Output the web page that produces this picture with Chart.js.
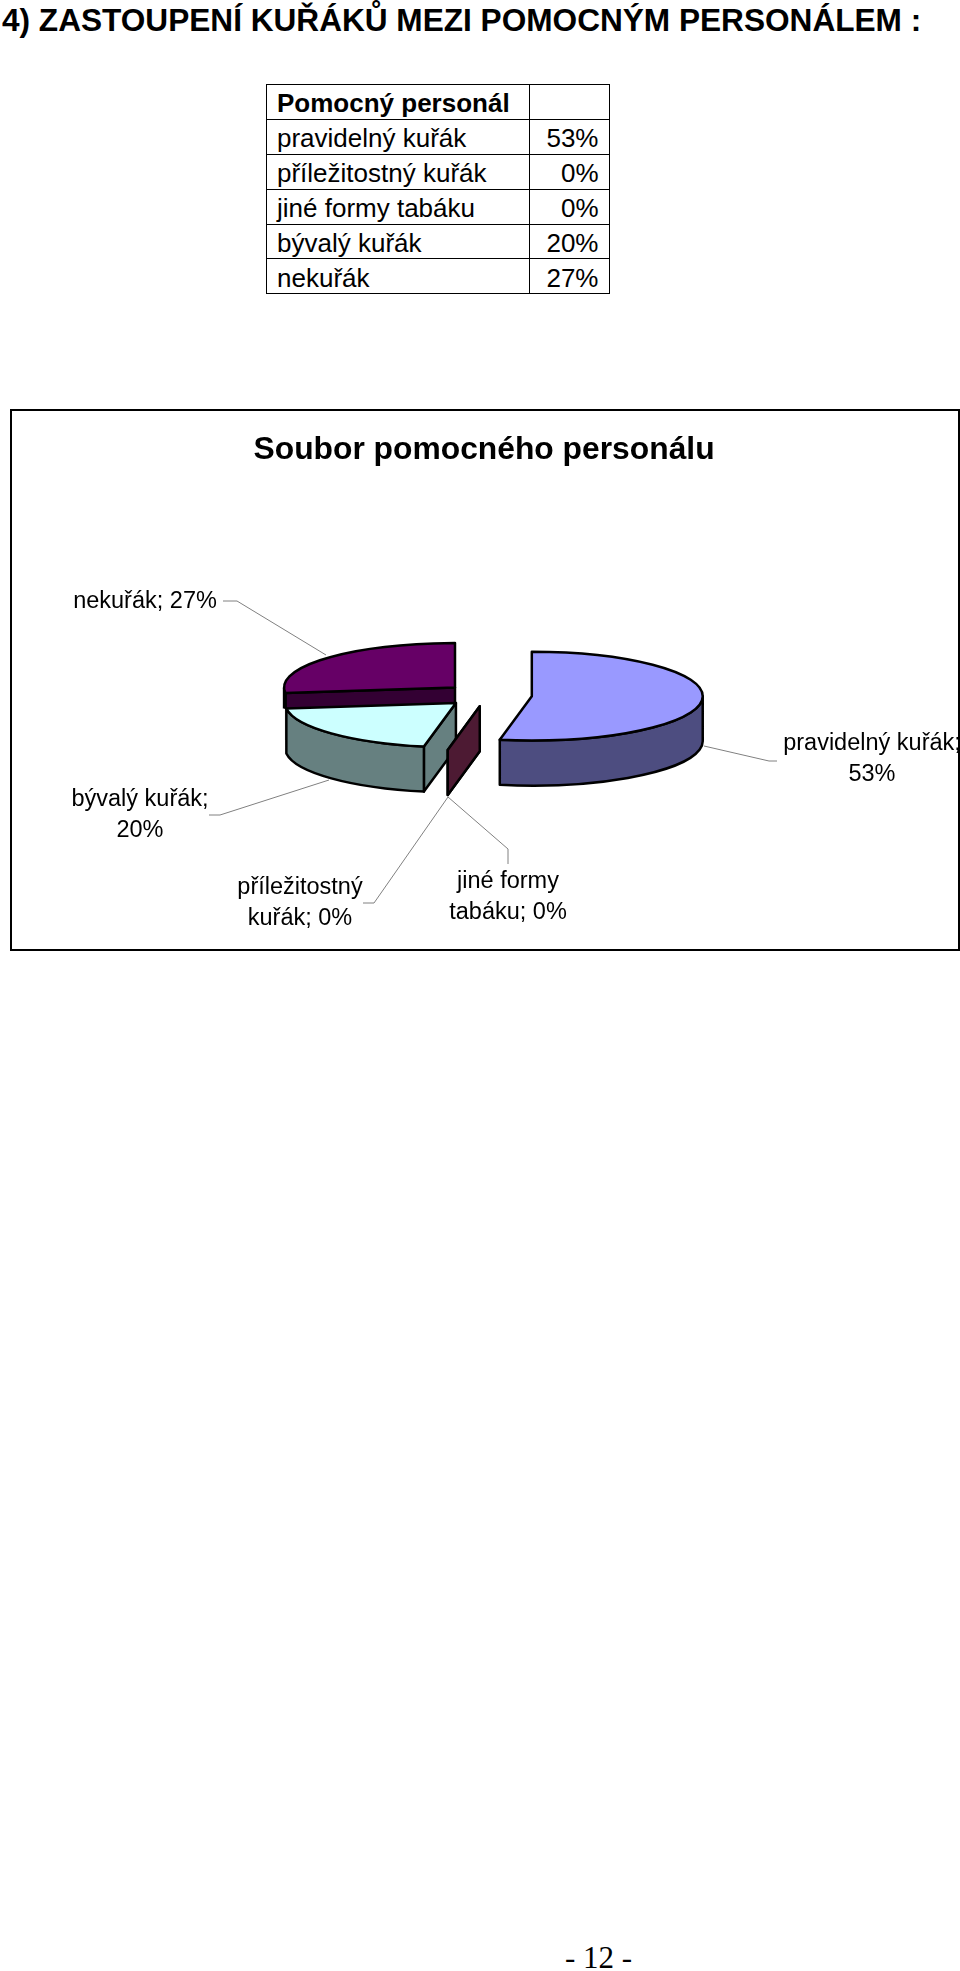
<!DOCTYPE html>
<html>
<head>
<meta charset="utf-8">
<title>Soubor pomocného personálu</title>
<script src="https://cdn.jsdelivr.net/npm/chart.js@4"></script>
<style>
  html, body { margin: 0; padding: 0; background: #fff; }
  body { position: relative; width: 960px; height: 1971px; overflow: hidden; font-family: "Liberation Sans", Arial, sans-serif; color: #000; }
  h1 { position: absolute; left: 2px; top: 1px; margin: 0; font-size: 31.6px; line-height: 38px; font-weight: bold; white-space: nowrap; }
  table { position: absolute; left: 266px; top: 84px; border-collapse: collapse; font-size: 26px; }
  td { border: 1.5px solid #000; height: 30.9px; padding: 3px 10px 0; line-height: 30px; }
  td.name { width: 242px; }
  td.val { width: 58.5px; text-align: right; }
  #frame { position: absolute; left: 10px; top: 409px; width: 946px; height: 538px; border: 2px solid #000; }
  canvas { position: absolute; left: 0; top: 0; }
  #page { position: absolute; left: 0; top: 1939px; width: 1197px; text-align: center; font-family: "Liberation Serif", "Times New Roman", serif; font-size: 31px; line-height: 38px; }
</style>
</head>
<body>
<h1>4) ZASTOUPENÍ KUŘÁKŮ MEZI POMOCNÝM PERSONÁLEM :</h1>
<table id="tbl"></table>
<div id="frame"><canvas id="pie" width="946" height="538"></canvas></div>
<div id="page">- 12 -</div>

<script>
const tableTitle = 'Pomocný personál';
const categories = ['pravidelný kuřák', 'příležitostný kuřák', 'jiné formy tabáku', 'bývalý kuřák', 'nekuřák'];
const shares = [53, 0, 0, 20, 27];
const topColors = ['#9999FF', '#993366', '#FFFFCC', '#CCFFFF', '#660066'];
const sideColors = ['#4D4D80', '#4D1A33', '#808066', '#668080', '#330033'];

// look of the tilted pie
const tilt = 0.26;
const depth = 45;
const explode = 44;
const drawOrder = [4, 0, 3, 2, 1];
const backSlice = 4, frontOfBack = 3; // the back slice's sides disappear behind this one

// where each data label goes, relative to the canvas (index follows categories)
const labelBoxes = [
  { x: 860, y: 333, splitAt: 2, leader: [[765, 350], [757, 350], [692, 335]] },
  { x: 288, y: 476.5, splitAt: 1, leader: [[351, 492], [362, 492], [436, 386]] },
  { x: 496, y: 470.5, splitAt: 2, leader: [[496, 453], [496, 438], [436, 386]] },
  { x: 128, y: 388.5, splitAt: 2, leader: [[197, 404], [208, 404], [317, 369]] },
  { x: 133, y: 190.5, splitAt: 2, leader: [[211, 190], [225, 190], [314, 244]] }
];

const tbl = document.getElementById('tbl');
let rows = '<tr><td class="name"><b>' + tableTitle + '</b></td><td class="val"></td></tr>';
categories.forEach((c, i) => {
  rows += '<tr><td class="name">' + c + '</td><td class="val">' + shares[i] + '%</td></tr>';
});
tbl.innerHTML = rows;

function sliceCentre(arc) {
  const mid = (arc.startAngle + arc.endAngle) / 2;
  return { x: arc.x + Math.cos(mid) * explode, y: arc.y + Math.sin(mid) * explode * tilt };
}

function radialWall(ctx, c, r, angle, colour) {
  const rx = c.x + Math.cos(angle) * r;
  const ry = c.y + Math.sin(angle) * r * tilt;
  ctx.beginPath();
  ctx.moveTo(c.x, c.y);
  ctx.lineTo(rx, ry);
  ctx.lineTo(rx, ry + depth);
  ctx.lineTo(c.x, c.y + depth);
  ctx.closePath();
  ctx.fillStyle = colour;
  ctx.fill();
  ctx.stroke();
}

function drawSides(ctx, arc, i) {
  const a1 = arc.startAngle, a2 = arc.endAngle, r = arc.outerRadius;
  const c = sliceCentre(arc);
  // radial walls that face the viewer
  if (Math.sin(a1 - Math.PI / 2) > 0) radialWall(ctx, c, r, a1, sideColors[i]);
  if (Math.sin(a2 + Math.PI / 2) > 0 && a2 !== a1) radialWall(ctx, c, r, a2, sideColors[i]);
  // outer rim, only the front half shows
  const from = Math.max(a1, 0), to = Math.min(a2, Math.PI);
  if (from < to) {
    ctx.beginPath();
    ctx.ellipse(c.x, c.y, r, r * tilt, 0, from, to);
    ctx.ellipse(c.x, c.y + depth, r, r * tilt, 0, to, from, true);
    ctx.closePath();
    ctx.fillStyle = sideColors[i];
    ctx.fill();
    ctx.stroke();
  }
}

const tiltedPie = {
  id: 'tiltedPie',
  beforeDatasetsDraw(chart) {
    const ctx = chart.ctx;
    const arcs = chart.getDatasetMeta(0).data;
    ctx.save();
    ctx.lineWidth = 2.5;
    ctx.lineJoin = 'round';
    ctx.strokeStyle = '#000';
    drawOrder.forEach((i) => {
      const arc = arcs[i];
      const a1 = arc.startAngle, a2 = arc.endAngle, r = arc.outerRadius;
      const c = sliceCentre(arc);
      if (i === backSlice) {
        // keep its sides from poking out past the slice in front, leave a faint edge
        const front = arcs[frontOfBack];
        const fc = sliceCentre(front);
        const cutY = fc.y + Math.sin(front.endAngle) * front.outerRadius * tilt;
        const edgeX = c.x + Math.cos(a1) * r;
        ctx.save();
        ctx.beginPath();
        ctx.rect(0, 0, chart.width, cutY);
        ctx.clip();
        drawSides(ctx, arc, i);
        ctx.restore();
        ctx.save();
        ctx.strokeStyle = '#999';
        ctx.lineWidth = 1;
        ctx.beginPath();
        ctx.moveTo(edgeX, cutY);
        ctx.lineTo(edgeX, cutY + depth * 0.7);
        ctx.stroke();
        ctx.restore();
      } else {
        drawSides(ctx, arc, i);
      }
      // top face
      if (a2 > a1) {
        ctx.beginPath();
        ctx.moveTo(c.x, c.y);
        ctx.ellipse(c.x, c.y, r, r * tilt, 0, a1, a2);
        ctx.closePath();
        ctx.fillStyle = topColors[i];
        ctx.fill();
        ctx.stroke();
      }
    });
    ctx.restore();
    return false;
  },
  afterDraw(chart) {
    const ctx = chart.ctx;
    ctx.save();
    ctx.font = '23.5px "Liberation Sans", Arial, sans-serif';
    ctx.textAlign = 'center';
    ctx.textBaseline = 'middle';
    labelBoxes.forEach((box, i) => {
      // leader
      ctx.beginPath();
      box.leader.forEach((p, k) => (k ? ctx.lineTo(p[0], p[1]) : ctx.moveTo(p[0], p[1])));
      ctx.strokeStyle = '#808080';
      ctx.lineWidth = 1;
      ctx.stroke();
      // text, wrapped like the original
      const words = (categories[i] + '; ' + shares[i] + '%').split(' ');
      const lines = [words.slice(0, box.splitAt).join(' ')];
      if (words.length > box.splitAt) lines.push(words.slice(box.splitAt).join(' '));
      ctx.fillStyle = '#000';
      lines.forEach((t, k) => ctx.fillText(t, box.x, box.y + k * 31));
    });
    ctx.restore();
  }
};

new Chart(document.getElementById('pie'), {
  type: 'pie',
  data: {
    labels: categories,
    datasets: [{ data: shares, backgroundColor: topColors }]
  },
  options: {
    responsive: false,
    animation: false,
    layout: { padding: { top: 20, left: 241.5, right: 235.5, bottom: 82 } },
    plugins: {
      legend: { display: false },
      tooltip: { enabled: false },
      title: {
        display: true,
        align: 'start',
        text: 'Soubor pomocného personálu',
        color: '#000',
        font: { family: '"Liberation Sans", Arial, sans-serif', size: 31.8, weight: 'bold', lineHeight: 1.2 },
        padding: { top: 0, bottom: 54 }
      }
    }
  },
  plugins: [tiltedPie]
});
</script>
</body>
</html>
